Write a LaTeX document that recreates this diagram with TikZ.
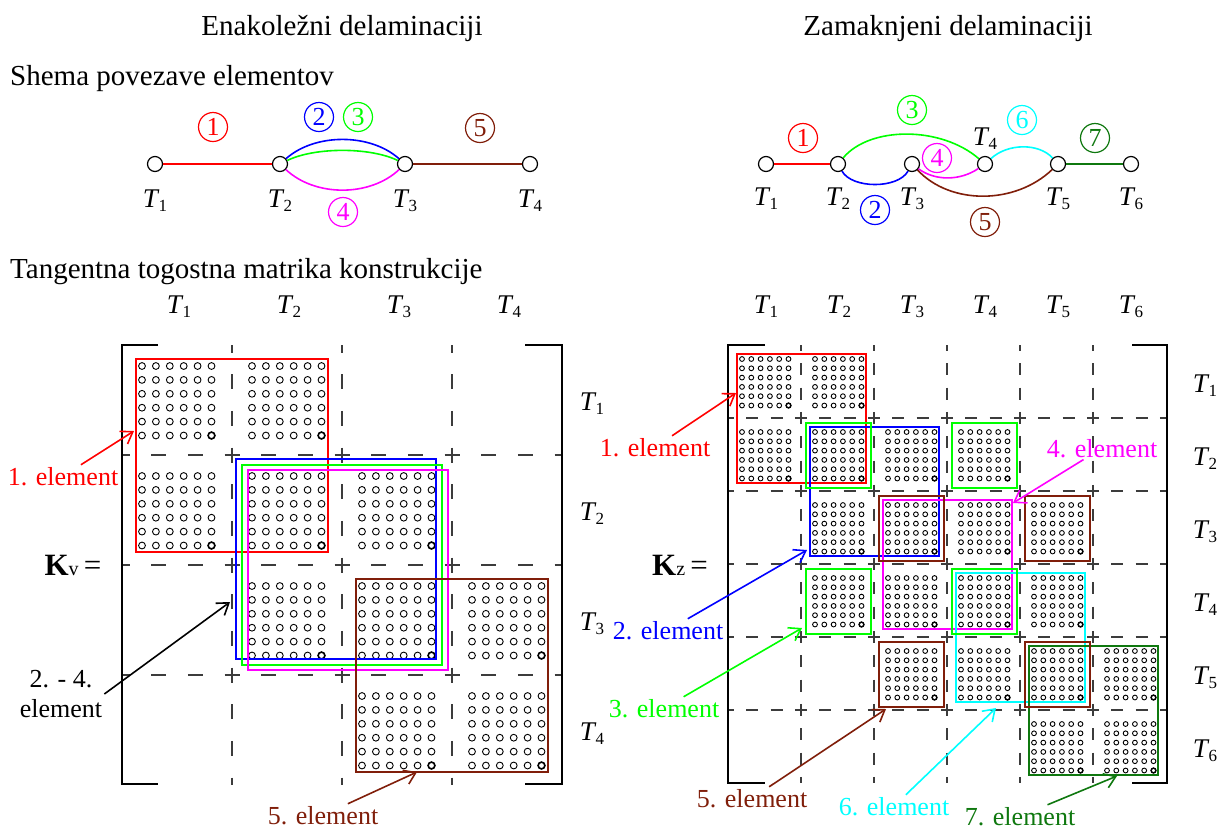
\documentclass[tikz,border=0pt]{standalone}
\usepackage{fontspec}
\setmainfont{Liberation Serif}
\usepackage{tikz}
\usetikzlibrary{positioning,arrows.meta}
\definecolor{elred}{RGB}{255,0,0}
\definecolor{elblue}{RGB}{0,0,255}
\definecolor{elgreen}{RGB}{0,255,0}
\definecolor{elmag}{RGB}{255,0,255}
\definecolor{elbrown}{RGB}{128,30,10}
\definecolor{elcyan}{RGB}{0,255,255}
\definecolor{eldkgreen}{RGB}{15,120,15}
\definecolor{gridgray}{RGB}{60,60,60}
\newcommand{\Tn}[1]{\textit{T}\kern-1pt\raisebox{-4pt}{\fontsize{17}{17}\selectfont #1}}
% 6x6 dot block in K_v (row, column)
\newcommand{\dotsL}[2]{%
  \foreach \i in {0,...,5}{\foreach \j in {0,...,5}{
    \draw[dotc] ({142+110*(#2-1)+13.9*\i},{366+110*(#1-1)+13.9*\j}) circle (3.4pt);}}
  \draw[dotc,line width=1.6pt] ({142+110*(#2-1)+69.5},{366+110*(#1-1)+69.5}) circle (3.4pt);}
% 6x6 dot block in K_z (row, column)
\newcommand{\dotsR}[2]{%
  \foreach \i in {0,...,5}{\foreach \j in {0,...,5}{
    \draw[dotc] ({742+73*(#2-1)+9.3*\i},{359+73*(#1-1)+9.3*\j}) circle (2.4pt);}}
  \draw[dotc,line width=1.4pt] ({742+73*(#2-1)+46.5},{359+73*(#1-1)+46.5}) circle (2.4pt);}
% frames in K_z: one block / 2x2 blocks (colour, row, column)
\newcommand{\oneblk}[3]{\draw[elbox,#1] ({732.5+73*(#3-1)},{349.5+73*(#2-1)}) rectangle ({798+73*(#3-1)},{415+73*(#2-1)});}
\newcommand{\fourblk}[3]{\draw[elbox,#1] ({737+73*(#3-1)},{354+73*(#2-1)}) rectangle ({866+73*(#3-1)},{483+73*(#2-1)});}
\tikzset{
  ttl/.style  ={font=\fontsize{29}{34}\selectfont, inner sep=0pt},
  jnt/.style  ={circle, draw, fill=white, minimum size=15pt, inner sep=0pt, line width=1.2pt},
  tlab/.style ={font=\fontsize{27}{30}\selectfont, inner sep=0pt},
  num/.style  ={circle, draw, minimum size=29pt, inner sep=0pt, line width=1.2pt,
                font=\fontsize{26}{26}\selectfont},
  edg/.style  ={line width=1.6pt},
  grdL/.style ={draw=gridgray, line width=1.4pt, dash pattern=on 15pt off 21.67pt, dash phase=7.5pt},
  grdR/.style ={draw=gridgray, line width=1.4pt, dash pattern=on 12pt off 12.33pt, dash phase=6pt},
  brk/.style  ={line width=1.5pt},
  dotc/.style ={line width=0.9pt, draw=black},
  elbox/.style={line width=2pt},
  elab/.style ={font=\fontsize{26}{30}\selectfont, inner sep=2pt},
  ar/.style   ={-{Straight Barb[length=11pt,width=15pt]}, line width=1.6pt},
}
\begin{document}
\begin{tikzpicture}[x=1pt,y=-1pt]
\useasboundingbox (0,0) rectangle (1221,831);

\node[ttl,anchor=base] (ttlV) at (342,35) {Enakoležni delaminaciji};
\node[ttl,anchor=base] (ttlZ) at (948,35) {Zamaknjeni delaminaciji};
\node[ttl,anchor=base west] (shema) at (10,85) {Shema povezave elementov};
\node[ttl,anchor=base west] (matr) at (10,278) {Tangentna togostna matrika konstrukcije};

% scheme, equal delaminations
\node[jnt] (v1) at (155,164) {};
\node[jnt] (v2) at (280,164) {};
\node[jnt] (v3) at (405,164) {};
\node[jnt] (v4) at (530,164) {};
\node[tlab,below=17.5pt of v1] (v1l) {\Tn{1}};
\node[tlab,below=17.5pt of v2] (v2l) {\Tn{2}};
\node[tlab,below=17.5pt of v3] (v3l) {\Tn{3}};
\node[tlab,below=17.5pt of v4] (v4l) {\Tn{4}};
\draw[edg,elred] (v1) -- (v2);
\draw[edg,elblue] (v2) .. controls (315,133) and (370,133) .. (v3);
\draw[edg,elgreen] (v2) .. controls (315,147) and (370,147) .. (v3);
\draw[edg,elmag] (v2) .. controls (315,197) and (370,197) .. (v3);
\draw[edg,elbrown] (v3) -- (v4);
\node[num,elred] (vn1) at (213,127) {1};
\node[num,elblue] (vn2) at (319,117) {2};
\node[num,elgreen] (vn3) at (358,117) {3};
\node[num,elmag] (vn4) at (343,212) {4};
\node[num,elbrown] (vn5) at (480,128) {5};

% scheme, shifted delaminations
\node[jnt] (z1) at (766,164) {};
\node[jnt] (z2) at (838,164) {};
\node[jnt] (z3) at (912,164) {};
\node[jnt] (z4) at (985,164) {};
\node[jnt] (z5) at (1058,164) {};
\node[jnt] (z6) at (1131,164) {};
\node[tlab,below=15.5pt of z1] (z1l) {\Tn{1}};
\node[tlab,below=15.5pt of z2] (z2l) {\Tn{2}};
\node[tlab,below=15.5pt of z3] (z3l) {\Tn{3}};
\node[tlab,above=6pt of z4] (z4l) {\Tn{4}};
\node[tlab,below=15.5pt of z5] (z5l) {\Tn{5}};
\node[tlab,below=15.5pt of z6] (z6l) {\Tn{6}};
\draw[edg,elred] (z1) -- (z2);
\draw[edg,elblue] (z2) .. controls (852,189) and (898,189) .. (z3);
\draw[edg,elgreen] (z2) .. controls (870,126) and (941,126) .. (z4);
\draw[edg,elmag] (z3) .. controls (935,181) and (960,181) .. (z4);
\draw[edg,elbrown] (z3) .. controls (950,205) and (1015,205) .. (z5);
\draw[edg,elcyan] (z4) .. controls (1008,143) and (1039,143) .. (z5);
\draw[edg,eldkgreen] (z5) -- (z6);
\node[num,elred] (zn1) at (803,138) {1};
\node[num,elblue] (zn2) at (875,210) {2};
\node[num,elgreen] (zn3) at (912,110) {3};
\node[num,elmag] (zn4) at (937,158) {4};
\node[num,elbrown] (zn5) at (985,222) {5};
\node[num,elcyan] (zn6) at (1022,120) {6};
\node[num,eldkgreen] (zn7) at (1095,138) {7};

% matrix K_v
\foreach \k in {1,2,3}{
  \draw[grdL] ({122+110*\k},345) -- ({122+110*\k},785);
  \draw[grdL] (122,{345+110*\k}) -- (562,{345+110*\k});}
\draw[brk] (158,345) -- (122,345) -- (122,784) -- (158,784);
\draw[brk] (525,345) -- (562,345) -- (562,784) -- (525,784);
\foreach \c in {1,...,4}{
  \node[tlab,anchor=base] (kvc\c) at ({179+110*(\c-1)},313) {\Tn{\c}};
  \node[tlab,anchor=base] (kvr\c) at (592,{410.5+110*(\c-1)}) {\Tn{\c}};}
\foreach \r/\c in {1/1,1/2,2/1,2/2,2/3,3/2,3/3,3/4,4/3,4/4} {\dotsL{\r}{\c}}
\draw[elbox,elred] (135.5,358.5) rectangle (328,552);
\draw[elbox,elblue] (236,459) rectangle (436,659);
\draw[elbox,elgreen] (242,464.5) rectangle (442,664.5);
\draw[elbox,elmag] (248,470) rectangle (448,670);
\draw[elbox,elbrown] (355.5,578.5) rectangle (548,772);
\node[font=\fontsize{31}{31}\selectfont,anchor=base] (kv) at (73,575) {\textbf{K}{\fontsize{20}{20}\selectfont v}\,=};

\coordinate (v1tip) at (134,431);
\coordinate (v24tip) at (230,602);
\coordinate (v5tip) at (417,772);
\node[elab,elred,anchor=base] (v1lab) at (63,485) {1. element};
\node[elab,align=center] (v24lab) at (61,694) {2. - 4.\\element};
\node[elab,elbrown,anchor=base] (v5lab) at (323,824) {5. element};
\draw[ar,elred] (v1lab) -- (v1tip);
\draw[ar] (v24lab.east) -- (v24tip);
\draw[ar,elbrown] (v5lab) -- (v5tip);

% matrix K_z
\foreach \k in {1,...,5}{
  \draw[grdR] ({728+73*\k},345) -- ({728+73*\k},783);
  \draw[grdR] (728,{345+73*\k}) -- (1167,{345+73*\k});}
\draw[brk] (765,345) -- (728,345) -- (728,783) -- (765,783);
\draw[brk] (1132,345) -- (1167,345) -- (1167,783) -- (1132,783);
\foreach \c in {1,...,6}{
  \node[tlab,anchor=base] (kzc\c) at ({766+73*(\c-1)},313) {\Tn{\c}};
  \node[tlab,anchor=base] (kzr\c) at (1205,{392+73*(\c-1)}) {\Tn{\c}};}
\foreach \r/\c in {1/1,1/2,2/1,2/2,2/3,2/4,3/2,3/3,3/4,3/5,4/2,4/3,4/4,4/5,5/3,5/4,5/5,5/6,6/5,6/6} {\dotsR{\r}{\c}}
\fourblk{elred}{1}{1}
\fourblk{elblue}{2}{2}
\fourblk{elmag}{3}{3}
\fourblk{elcyan}{4}{4}
\fourblk{eldkgreen}{5}{5}
\oneblk{elgreen}{2}{2} \oneblk{elgreen}{2}{4} \oneblk{elgreen}{4}{2} \oneblk{elgreen}{4}{4}
\oneblk{elbrown}{3}{3} \oneblk{elbrown}{3}{5} \oneblk{elbrown}{5}{3} \oneblk{elbrown}{5}{5}
\node[font=\fontsize{31}{31}\selectfont,anchor=base] (kz) at (680,575) {\textbf{K}{\fontsize{20}{20}\selectfont z}\,=};

\coordinate (z1tip) at (736,393);
\coordinate (z2tip) at (807,550);
\coordinate (z3tip) at (802,628);
\coordinate (z4tip) at (1013,503);
\coordinate (z5tip) at (886,709);
\coordinate (z6tip) at (996,708);
\coordinate (z7tip) at (1117,776);
\node[elab,elred,anchor=base] (z1lab) at (655,456) {1. element};
\node[elab,elblue,anchor=base] (z2lab) at (668,639) {2. element};
\node[elab,elgreen,anchor=base] (z3lab) at (664,717) {3. element};
\node[elab,elmag,anchor=base] (z4lab) at (1102,457) {4. element};
\node[elab,elbrown,anchor=base] (z5lab) at (752,807) {5. element};
\node[elab,elcyan,anchor=base] (z6lab) at (894,815) {6. element};
\node[elab,eldkgreen,anchor=base] (z7lab) at (1020,825) {7. element};
\draw[ar,elred] (z1lab) -- (z1tip);
\draw[ar,elblue] (z2lab) -- (z2tip);
\draw[ar,elgreen] (z3lab) -- (z3tip);
\draw[ar,elmag] (z4lab) -- (z4tip);
\draw[ar,elbrown] (z5lab) -- (z5tip);
\draw[ar,elcyan] (z6lab) -- (z6tip);
\draw[ar,eldkgreen] (z7lab) -- (z7tip);
\end{tikzpicture}
\end{document}
